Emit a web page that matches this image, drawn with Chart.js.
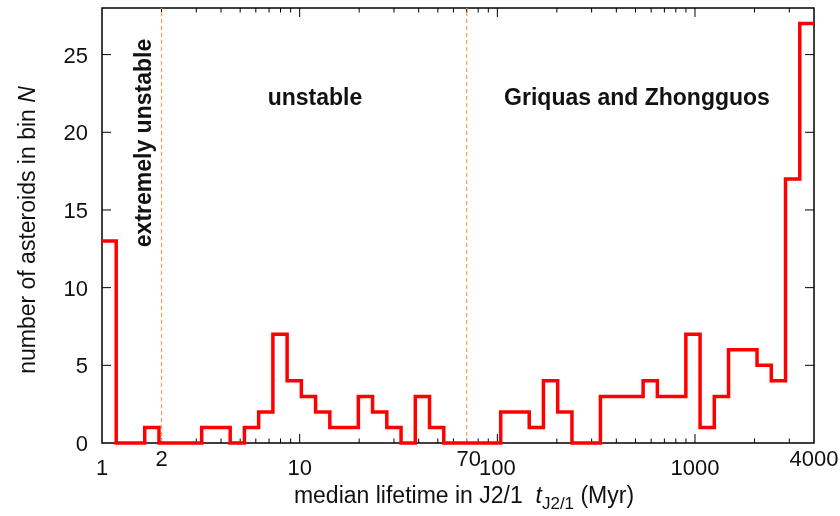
<!DOCTYPE html>
<html>
<head>
<meta charset="utf-8">
<script src="https://cdn.jsdelivr.net/npm/chart.js@4"></script>
<style>
  html, body { margin: 0; padding: 0; background: #fff; }
  #wrap { width: 840px; height: 516px; }
</style>
</head>
<body>
<div id="wrap"><canvas id="chart" width="840" height="516"></canvas></div>
<script>
// bin edges of the lifetime histogram (Myr), 50 bins equally spaced in log from 1 to 4000
const bin_edges = [
  1, 1.180, 1.393, 1.645, 1.942, 2.293, 2.706, 3.194, 3.771, 4.451,
  5.254, 6.202, 7.321, 8.642, 10.20, 12.04, 14.21, 16.78, 19.81, 23.38,
  27.60, 32.58, 38.46, 45.40, 53.59, 63.25, 74.67, 88.13, 104.0, 122.8,
  145.0, 171.1, 202.0, 238.5, 281.5, 332.3, 392.2, 463.0, 546.5, 645.1,
  761.5, 898.9, 1061, 1252, 1478, 1745, 2060, 2432, 2871, 3389, 4000
];
// number of asteroids in each bin
const bin_counts = [
  13, 0, 0, 1, 0, 0, 0, 1, 1, 0,
  1, 2, 7, 4, 3, 2, 1, 1, 3, 2,
  1, 0, 3, 1, 0, 0, 0, 0, 2, 2,
  1, 4, 2, 0, 0, 3, 3, 3, 4, 3,
  3, 7, 1, 3, 6, 6, 5, 4, 17, 27
];
const x_tick_values = [1, 2, 10, 70, 100, 1000, 4000];
const x_tick_labels = ['1', '2', '10', '70', '100', '1000', '4000'];
const y_tick_values = [0, 5, 10, 15, 20, 25];
const boundaries = [2, 70];
const region_labels = ['extremely unstable', 'unstable', 'Griquas and Zhongguos'];

const FONT = '"Liberation Sans", Arial, sans-serif';

// step outline: each bin starts at its left edge, last edge closes the last bin
const hist_points = bin_edges.map(function(e, i){
  return {x: e, y: bin_counts[Math.min(i, bin_counts.length - 1)]};
});

function boundary_set(v){
  return {
    data: [{x: v, y: 0}, {x: v, y: 28}],
    borderColor: 'rgb(244,160,80)',
    borderWidth: 1.2,
    borderDash: [4, 3],
    pointRadius: 0,
    fill: false
  };
}

const frame_plugin = {
  id: 'frame',
  beforeDatasetsDraw(chart){
    const ctx = chart.ctx;
    const a = chart.chartArea;
    const x = chart.scales.x, y = chart.scales.y;
    ctx.save();
    ctx.strokeStyle = '#000';
    ctx.lineWidth = 1;
    ctx.beginPath();
    // minor + major ticks on the log axis, pointing inward, top and bottom
    for (let d = 1; d <= 1000; d *= 10) {
      for (let m = 1; m < 10; m++) {
        const v = d * m;
        if (v === 1 || v >= 4000) continue;
        const px = x.getPixelForValue(v);
        const len = (m === 1) ? 9 : 4.5;
        ctx.moveTo(px, a.bottom); ctx.lineTo(px, a.bottom - len);
        ctx.moveTo(px, a.top); ctx.lineTo(px, a.top + len);
      }
    }
    y_tick_values.forEach(function(v){
      if (v === 0) return;
      const py = y.getPixelForValue(v);
      ctx.moveTo(a.left, py); ctx.lineTo(a.left + 9, py);
      ctx.moveTo(a.right, py); ctx.lineTo(a.right - 9, py);
    });
    ctx.stroke();
    ctx.lineWidth = 1.5;
    ctx.strokeRect(a.left, a.top, a.right - a.left, a.bottom - a.top);
    ctx.restore();
  },
  afterDraw(chart){
    const ctx = chart.ctx;
    const x = chart.scales.x, y = chart.scales.y;
    ctx.save();
    ctx.fillStyle = '#111';

    // y tick labels
    ctx.font = '22px ' + FONT;
    ctx.textAlign = 'right';
    ctx.textBaseline = 'alphabetic';
    y_tick_values.forEach(function(v){
      ctx.fillText(String(v), 88, y.getPixelForValue(v) + 8);
    });

    // x tick labels (2, 70 and 4000 sit a bit higher)
    ctx.textAlign = 'center';
    x_tick_values.forEach(function(v, i){
      const raised = (v === 2 || v === 70 || v === 4000);
      const px = x.getPixelForValue(v) + (v === 70 ? 2 : 0);
      ctx.fillText(x_tick_labels[i], px, raised ? 466 : 475);
    });

    // x axis title: median lifetime in J2/1 t_{J2/1} (Myr)
    const parts = [
      {t: 'median lifetime in J2/1  ', f: '23px ' + FONT, dy: 0},
      {t: 't', f: 'italic 23px ' + FONT, dy: 0},
      {t: 'J2/1', f: '17px ' + FONT, dy: 6},
      {t: ' (Myr)', f: '23px ' + FONT, dy: 0}
    ];
    let total = 0;
    parts.forEach(function(p){ ctx.font = p.f; p.w = ctx.measureText(p.t).width; total += p.w; });
    let cx = 464 - total / 2;
    ctx.textAlign = 'left';
    parts.forEach(function(p){ ctx.font = p.f; ctx.fillText(p.t, cx, 503 + p.dy); cx += p.w; });

    // y axis title
    ctx.save();
    ctx.translate(35, 230);
    ctx.rotate(-Math.PI / 2);
    const ya = 'number of asteroids in bin ';
    ctx.font = '23px ' + FONT;
    const wa = ctx.measureText(ya).width;
    ctx.font = 'italic 23px ' + FONT;
    const wb = ctx.measureText('N').width;
    const sx = -(wa + wb) / 2;
    ctx.font = '23px ' + FONT;
    ctx.fillText(ya, sx, 0);
    ctx.font = 'italic 23px ' + FONT;
    ctx.fillText('N', sx + wa, 0);
    ctx.restore();

    // region labels
    ctx.font = 'bold 23px ' + FONT;
    ctx.textAlign = 'center';
    ctx.save();
    ctx.translate(151, 143);
    ctx.rotate(-Math.PI / 2);
    ctx.fillText(region_labels[0], 0, 0);
    ctx.restore();
    ctx.fillText(region_labels[1], 315, 105);
    ctx.fillText(region_labels[2], 637, 105);
    ctx.restore();
  }
};

const ctx = document.getElementById('chart').getContext('2d');
const chart = new Chart(ctx, {
  type: 'line',
  data: {
    datasets: [
      {
        data: hist_points,
        borderColor: 'rgb(255,0,0)',
        borderWidth: 3.5,
        stepped: 'before',
        pointRadius: 0,
        fill: false,
        clip: false
      },
      boundary_set(boundaries[0]),
      boundary_set(boundaries[1])
    ]
  },
  options: {
    responsive: false,
    animation: false,
    devicePixelRatio: 1,
    layout: { padding: { left: 102, right: 26, top: 8, bottom: 73 } },
    plugins: { legend: { display: false }, tooltip: { enabled: false } },
    scales: {
      x: { type: 'logarithmic', min: 1, max: 4000, display: false },
      y: { type: 'linear', min: 0, max: 28, display: false }
    }
  },
  plugins: [frame_plugin]
});
</script>
</body>
</html>
